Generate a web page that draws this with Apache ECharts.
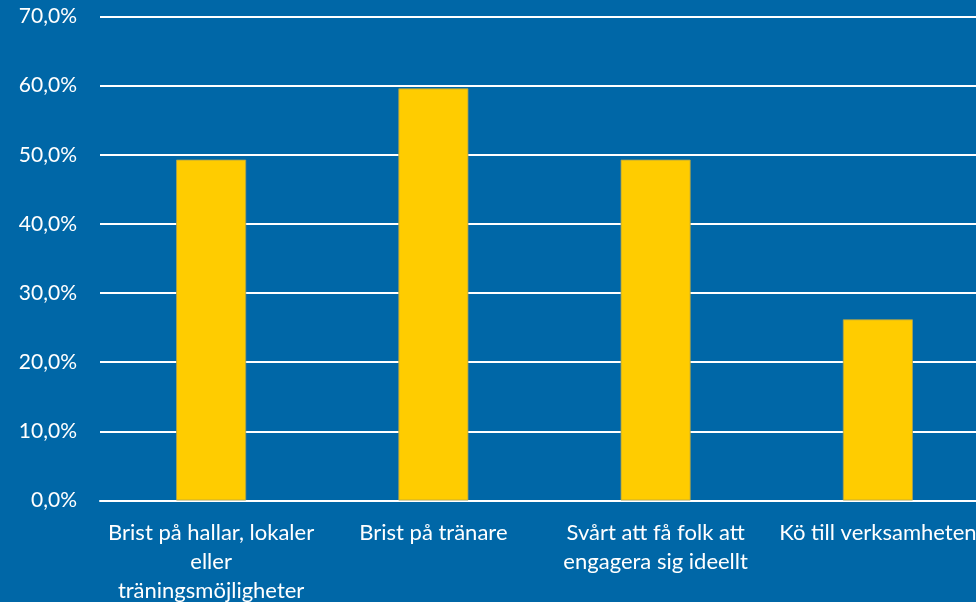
<!DOCTYPE html>
<html>
<head>
<meta charset="utf-8">
<script src="https://cdn.jsdelivr.net/npm/echarts@6/dist/echarts.min.js"></script>
<style>
  html, body { margin: 0; padding: 0; background: #0067a7; overflow: hidden; }
  #chart { width: 976px; height: 602px; }
</style>
</head>
<body>
<div id="chart"></div>
<script>
// kategorier och andelar (%)
const categories = [
  'Brist på hallar, lokaler\neller\nträningsmöjligheter',
  'Brist på tränare',
  'Svårt att få folk att\nengagera sig ideellt',
  'Kö till verksamheten'
]
const values = [49.3, 59.6, 49.3, 26.2]

const chart = echarts.init(document.getElementById('chart'))
const option = {
  backgroundColor: '#0067a7',
  animation: false,
  grid: {
    left: 100,
    top: 16.5,
    width: 889,
    height: 484,
    outerBoundsMode: 'none',
    containLabel: false
  },
  xAxis: {
    type: 'category',
    data: categories,
    axisTick: { show: false },
    axisLine: { lineStyle: { color: '#ffffff', width: 2 } },
    axisLabel: {
      interval: 0,
      margin: 18,
      color: '#ffffff',
      fontFamily: 'Lato',
      fontSize: 22,
      lineHeight: 29,
      align: 'center',
      hideOverlap: false
    }
  },
  yAxis: {
    type: 'value',
    min: 0,
    max: 70,
    interval: 10,
    axisLine: { show: false },
    axisTick: { show: false },
    splitLine: { lineStyle: { color: '#ffffff', width: 2 } },
    axisLabel: {
      margin: 23,
      color: '#ffffff',
      fontFamily: 'Lato',
      fontSize: 21,
      formatter: v => v.toFixed(1).replace('.', ',') + '%'
    }
  },
  series: [
    {
      type: 'bar',
      data: values,
      barWidth: 70,
      itemStyle: {
        color: '#ffcc00',
        borderColor: '#a8a050',
        borderWidth: 0.8
      }
    }
  ]
}
chart.setOption(option)
</script>
</body>
</html>
